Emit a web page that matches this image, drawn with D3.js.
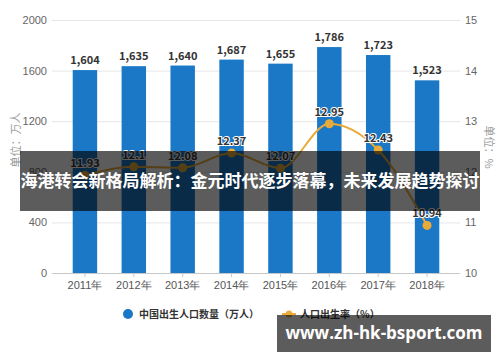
<!DOCTYPE html>
<html>
<head>
<meta charset="utf-8">
<script src="https://cdn.jsdelivr.net/npm/d3@7"></script>
<style>
  body { margin: 0; background: #fff; }
  svg { font-family: "Noto Sans CJK SC", "Noto Sans", sans-serif; }
</style>
</head>
<body>
<div id="chart-area"></div>
<script>
const years = ['2011年', '2012年', '2013年', '2014年', '2015年', '2016年', '2017年', '2018年'];
const births = [1604, 1635, 1640, 1687, 1655, 1786, 1723, 1523];
const birthRate = [11.93, 12.1, 12.08, 12.37, 12.07, 12.95, 12.43, 10.94];
const leftTicks = [0, 400, 800, 1200, 1600, 2000];
const rightTicks = [10, 11, 12, 13, 14, 15];

const barColor = '#1a78c6';
const lineColor = '#e8ab3a';

const svg = d3.select('#chart-area').append('svg')
  .attr('width', 500)
  .attr('height', 362);

const x = d3.scaleBand()
  .domain(years)
  .range([60.5, 451.5])
  .paddingInner(0.5)
  .paddingOuter(0.25);

const yLeft = d3.scaleLinear().domain([0, 2000]).range([273, 20]);
const yRight = d3.scaleLinear().domain([10, 15]).range([273, 20]);

// grid lines
svg.append('g')
  .selectAll('line')
  .data(leftTicks)
  .join('line')
  .attr('x1', 52)
  .attr('x2', 460)
  .attr('y1', d => yLeft(d) + 0.5)
  .attr('y2', d => yLeft(d) + 0.5)
  .attr('stroke', d => d === 0 ? '#c8c8c8' : '#e6e6e6')
  .attr('stroke-width', 1);

// left axis labels
const leftAxis = d3.axisLeft(yLeft).tickValues(leftTicks).tickFormat(d3.format('d')).tickSize(0).tickPadding(0);
svg.append('g')
  .attr('transform', 'translate(47, 0)')
  .call(leftAxis)
  .call(g => g.select('.domain').remove())
  .call(g => g.selectAll('text').attr('fill', '#666').attr('font-size', '11px'));

// right axis labels
const rightAxis = d3.axisRight(yRight).tickValues(rightTicks).tickFormat(d3.format('d')).tickSize(0).tickPadding(0);
svg.append('g')
  .attr('transform', 'translate(465, 0)')
  .call(rightAxis)
  .call(g => g.select('.domain').remove())
  .call(g => g.selectAll('text').attr('fill', '#666').attr('font-size', '11px'));

// x axis
const xAxis = d3.axisBottom(x).tickSize(4).tickPadding(4);
svg.append('g')
  .attr('transform', 'translate(0, 273)')
  .call(xAxis)
  .call(g => g.select('.domain').remove())
  .call(g => g.selectAll('line').attr('stroke', '#c8c8c8'))
  .call(g => g.selectAll('text').attr('fill', '#555').attr('font-size', '11px'));

// axis titles
svg.append('text')
  .attr('transform', 'translate(20, 140) rotate(-90)')
  .attr('text-anchor', 'middle')
  .attr('fill', '#999')
  .attr('font-size', '11px')
  .text('单位：万人');

svg.append('text')
  .attr('transform', 'translate(485, 147) rotate(90)')
  .attr('text-anchor', 'middle')
  .attr('fill', '#999')
  .attr('font-size', '11px')
  .text('单位：%');

// bars
svg.append('g')
  .selectAll('rect')
  .data(births)
  .join('rect')
  .attr('x', (d, i) => x(years[i]))
  .attr('y', d => yLeft(d))
  .attr('width', x.bandwidth())
  .attr('height', d => yLeft(0) - yLeft(d))
  .attr('fill', barColor);

svg.append('g')
  .selectAll('text')
  .data(births)
  .join('text')
  .attr('x', (d, i) => x(years[i]) + x.bandwidth() / 2)
  .attr('y', d => yLeft(d) - 6)
  .attr('text-anchor', 'middle')
  .attr('font-size', '11px')
  .attr('font-weight', 'bold')
  .attr('fill', '#333')
  .text(d => d3.format(',')(d));

// rate line
const cx = i => x(years[i]) + x.bandwidth() / 2;
const line = d3.line()
  .x((d, i) => cx(i))
  .y(d => yRight(d))
  .curve(d3.curveMonotoneX);

svg.append('path')
  .datum(birthRate)
  .attr('d', line)
  .attr('fill', 'none')
  .attr('stroke', lineColor)
  .attr('stroke-width', 2);

svg.append('g')
  .selectAll('circle')
  .data(birthRate)
  .join('circle')
  .attr('cx', (d, i) => cx(i))
  .attr('cy', d => yRight(d))
  .attr('r', 4.5)
  .attr('fill', lineColor);

svg.append('g')
  .selectAll('text')
  .data(birthRate)
  .join('text')
  .attr('x', (d, i) => cx(i))
  .attr('y', d => yRight(d) - 8)
  .attr('text-anchor', 'middle')
  .attr('font-size', '11px')
  .attr('font-weight', 'bold')
  .attr('fill', '#333')
  .attr('stroke', '#fff')
  .attr('stroke-width', 2)
  .attr('paint-order', 'stroke')
  .text(d => d);

// legend
const legend = svg.append('g').attr('font-size', '10px').attr('fill', '#333').attr('font-weight', 'bold');
legend.append('circle').attr('cx', 128).attr('cy', 314).attr('r', 5).attr('fill', barColor);
legend.append('text').attr('x', 139).attr('y', 318).text('中国出生人口数量（万人）');
legend.append('line').attr('x1', 282).attr('x2', 296).attr('y1', 314).attr('y2', 314)
  .attr('stroke', lineColor).attr('stroke-width', 2);
legend.append('circle').attr('cx', 289).attr('cy', 314).attr('r', 3.5).attr('fill', lineColor);
legend.append('text').attr('x', 300).attr('y', 318).text('人口出生率（%）');

// title banner
svg.append('rect')
  .attr('x', 20).attr('y', 151)
  .attr('width', 460).attr('height', 60)
  .attr('fill', 'rgba(0,0,0,0.64)');
svg.append('text')
  .attr('x', 250).attr('y', 187)
  .attr('text-anchor', 'middle')
  .attr('fill', '#fff')
  .attr('font-size', '17px')
  .attr('font-weight', 'bold')
  .text('海港转会新格局解析：金元时代逐步落幕，未来发展趋势探讨');

// site label
svg.append('rect')
  .attr('x', 277).attr('y', 315)
  .attr('width', 214).attr('height', 37)
  .attr('fill', 'rgba(0,0,0,0.64)');
svg.append('text')
  .attr('x', 384).attr('y', 339)
  .attr('text-anchor', 'middle')
  .attr('fill', '#fff')
  .attr('font-size', '17px')
  .attr('font-weight', 'bold')
  .attr('font-family', '"Open Sans", "DejaVu Sans", sans-serif')
  .text('www.zh-hk-bsport.com');
</script>
</body>
</html>
